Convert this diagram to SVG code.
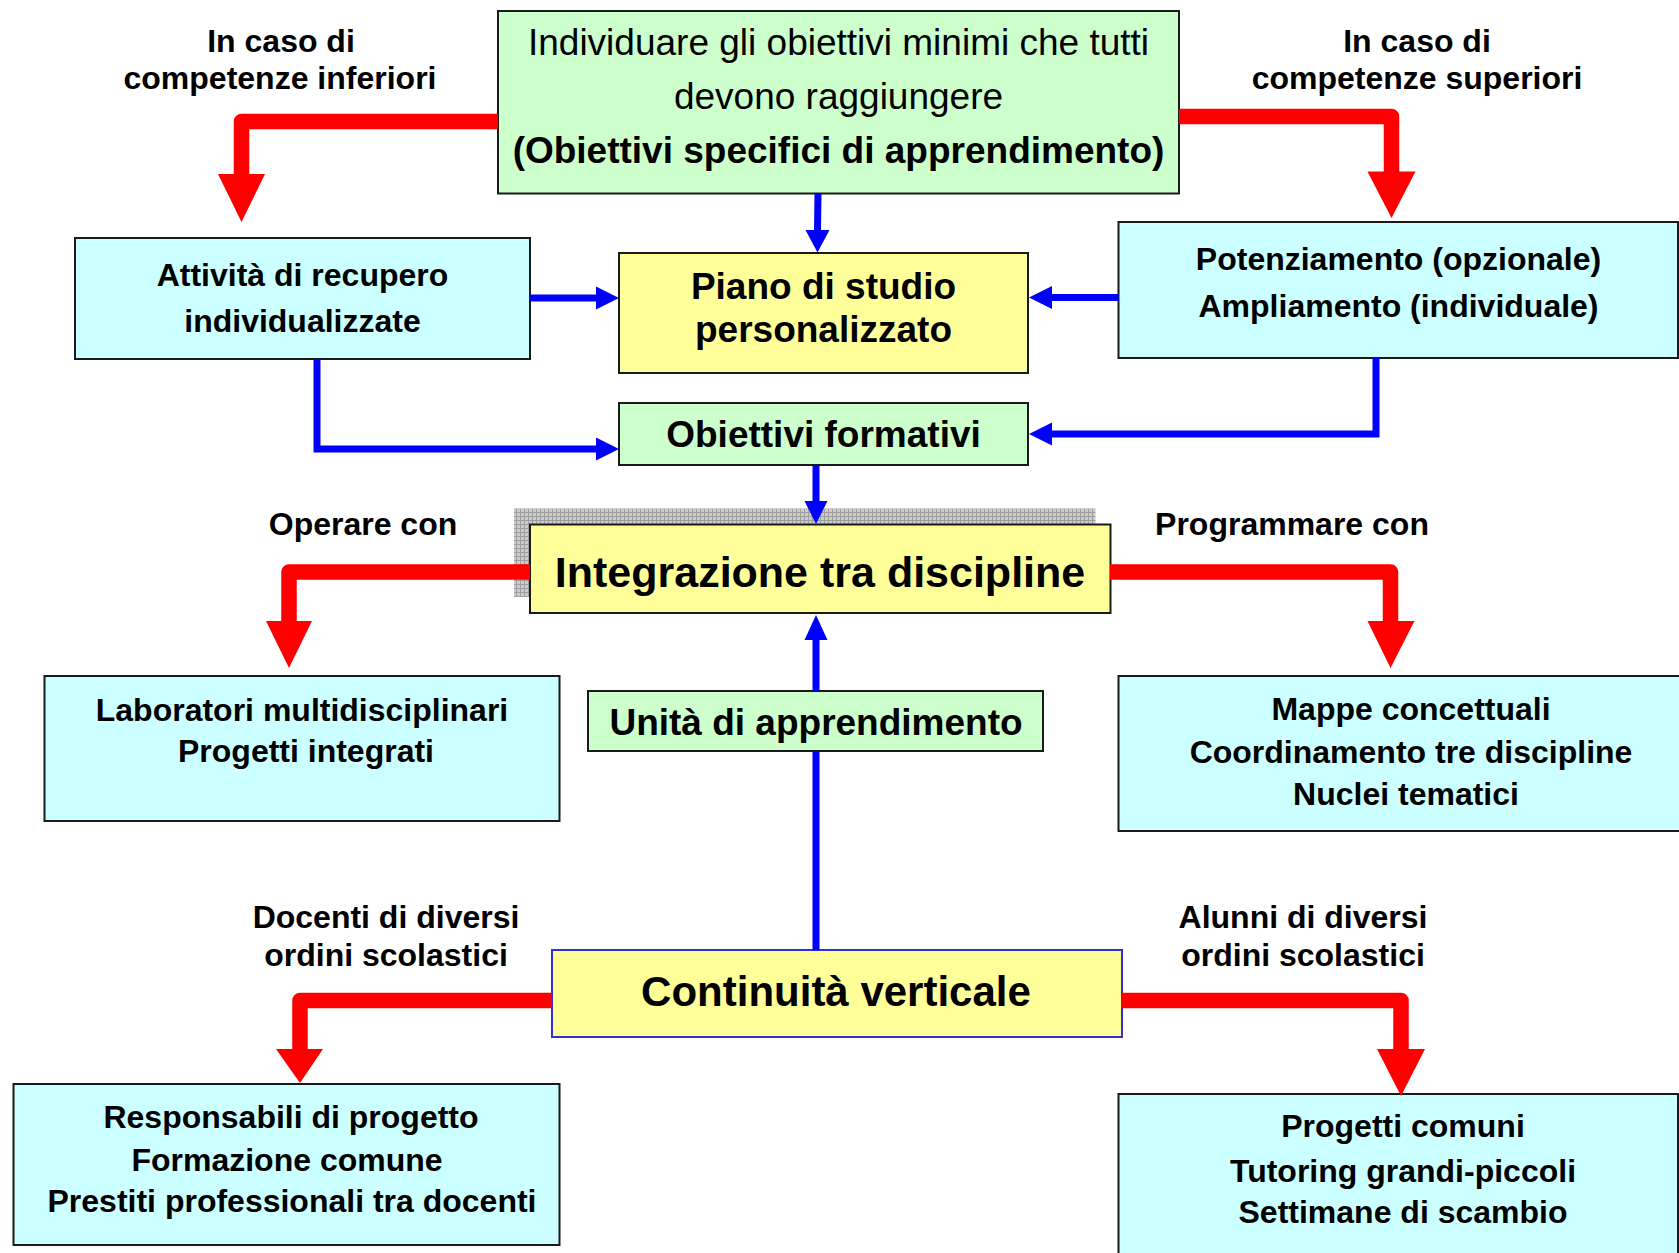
<svg xmlns="http://www.w3.org/2000/svg" width="1679" height="1253" viewBox="0 0 1679 1253">
<defs>
<style>
.box{stroke:#1a1a1a;stroke-width:2}
.g{fill:#ccffcc}.c{fill:#ccffff}.y{fill:#ffff99}
.t{font-family:"Liberation Sans",Arial,sans-serif;fill:#000;text-anchor:middle}
.b{font-weight:bold}
.lbl{font-family:"Liberation Sans",Arial,sans-serif;font-weight:bold;font-size:32px;text-anchor:middle;fill:#000}
.red{fill:none;stroke:#ff0000;stroke-width:15.5;stroke-linejoin:round}
.blue{fill:none;stroke:#0000ff;stroke-width:7}
.rh{fill:#ff0000}.bh{fill:#0000ff}
</style>
<pattern id="grid" width="4" height="4" patternUnits="userSpaceOnUse">
<rect width="4" height="4" fill="#cccccc"/>
<path d="M0,0.5 H4 M0.5,0 V4" stroke="#9e9e9e" stroke-width="1"/>
</pattern>
</defs>
<rect width="1679" height="1253" fill="#ffffff"/>

<g id="labels">
<text class="lbl" x="281" y="52">In caso di</text>
<text class="lbl" x="280" y="89">competenze inferiori</text>
<text class="lbl" x="1417" y="52">In caso di</text>
<text class="lbl" x="1417" y="89">competenze superiori</text>
<text class="lbl" x="363" y="535">Operare con</text>
<text class="lbl" x="1292" y="535">Programmare con</text>
<text class="lbl" x="386" y="928">Docenti di diversi</text>
<text class="lbl" x="386" y="966">ordini scolastici</text>
<text class="lbl" x="1303" y="928">Alunni di diversi</text>
<text class="lbl" x="1303" y="966">ordini scolastici</text>
</g>

<g id="node-obiettivi-minimi">
<rect class="box g" x="498" y="11" width="681" height="182.5"/>
<text class="t" x="838.5" y="55" font-size="37">Individuare gli obiettivi minimi che tutti</text>
<text class="t" x="838.5" y="108.5" font-size="37">devono raggiungere</text>
<text class="t b" x="838.5" y="163" font-size="37">(Obiettivi specifici di apprendimento)</text>
</g>

<g id="node-attivita">
<rect class="box c" x="75" y="238" width="455" height="121"/>
<text class="t b" x="302.5" y="286" font-size="32">Attività di recupero</text>
<text class="t b" x="302.5" y="332" font-size="32">individualizzate</text>
</g>

<g id="node-piano">
<rect class="box y" x="619" y="253" width="409" height="120"/>
<text class="t b" x="823.5" y="299" font-size="37">Piano di studio</text>
<text class="t b" x="823.5" y="342" font-size="37">personalizzato</text>
</g>

<g id="node-potenziamento">
<rect class="box c" x="1118.5" y="222" width="559.5" height="136"/>
<text class="t b" x="1398.5" y="270" font-size="32">Potenziamento (opzionale)</text>
<text class="t b" x="1398.5" y="316.5" font-size="32">Ampliamento (individuale)</text>
</g>

<g id="node-obiettivi-formativi">
<rect class="box g" x="619" y="403" width="409" height="62"/>
<text class="t b" x="823.5" y="447" font-size="37">Obiettivi formativi</text>
</g>

<g id="node-integrazione">
<rect x="514" y="508.5" width="581.5" height="88.5" fill="url(#grid)"/>
<rect class="box y" x="530" y="524.5" width="580.5" height="88.5"/>
<text class="t b" x="820" y="587" font-size="43">Integrazione tra discipline</text>
</g>

<g id="node-laboratori">
<rect class="box c" x="44.5" y="676" width="515" height="145"/>
<text class="t b" x="302" y="720.5" font-size="32">Laboratori multidisciplinari</text>
<text class="t b" x="306" y="761.5" font-size="32">Progetti integrati</text>
</g>

<g id="node-mappe">
<rect class="box c" x="1118.5" y="676" width="590" height="155"/>
<text class="t b" x="1411" y="720" font-size="32">Mappe concettuali</text>
<text class="t b" x="1411" y="762.5" font-size="32">Coordinamento tre discipline</text>
<text class="t b" x="1406" y="805" font-size="32">Nuclei tematici</text>
</g>

<g id="node-unita">
<rect class="box g" x="588" y="691" width="455" height="60"/>
<text class="t b" x="816" y="735" font-size="37">Unità di apprendimento</text>
</g>

<g id="node-continuita">
<rect x="552" y="950" width="570" height="87" fill="#ffff99" stroke="#3333cc" stroke-width="2"/>
<text class="t b" x="836" y="1006" font-size="42">Continuità verticale</text>
</g>

<g id="node-responsabili">
<rect class="box c" x="13.5" y="1084" width="546" height="161"/>
<text class="t b" x="291" y="1128" font-size="32">Responsabili di progetto</text>
<text class="t b" x="287" y="1170.5" font-size="32">Formazione comune</text>
<text class="t b" x="292" y="1212" font-size="32">Prestiti professionali tra docenti</text>
</g>

<g id="node-progetti-comuni">
<rect class="box c" x="1118.5" y="1094" width="559.5" height="180"/>
<text class="t b" x="1403" y="1137" font-size="32">Progetti comuni</text>
<text class="t b" x="1403" y="1181.5" font-size="32">Tutoring grandi-piccoli</text>
<text class="t b" x="1403" y="1223" font-size="32">Settimane di scambio</text>
</g>

<g id="connectors">
<path class="red" d="M498,121.5 H241.5 V175"/>
<polygon class="rh" points="218,174 265,174 241.5,222"/>
<path class="red" d="M1179,116.5 H1391.5 V172"/>
<polygon class="rh" points="1367.5,171.5 1415.5,171.5 1391.5,218"/>
<path class="red" d="M530,572 H289 V622"/>
<polygon class="rh" points="266,621 312,621 289,668"/>
<path class="red" d="M1110,572 H1390.5 V622"/>
<polygon class="rh" points="1367.5,621 1414.5,621 1390.5,668"/>
<path class="red" d="M552,1000.5 H300 V1050"/>
<polygon class="rh" points="276,1049 323,1049 300,1083"/>
<path class="red" d="M1122,1000.5 H1401 V1050"/>
<polygon class="rh" points="1377,1049 1425,1049 1401,1096"/>

<path class="blue" d="M818,193.5 L817.5,231"/>
<polygon class="bh" points="805.5,230 829.5,230 817.5,252.5"/>
<path class="blue" d="M530,298 H597"/>
<polygon class="bh" points="596,286.5 596,309.5 619,298"/>
<path class="blue" d="M1118.5,297.5 H1051"/>
<polygon class="bh" points="1052,286 1052,309 1029,297.5"/>
<path class="blue" d="M317,359 V449 H597"/>
<polygon class="bh" points="596,437.5 596,460.5 619,449"/>
<path class="blue" d="M1376,358 V434 H1051"/>
<polygon class="bh" points="1052,422.5 1052,445.5 1029,434"/>
<path class="blue" d="M816,465 V502"/>
<polygon class="bh" points="804.5,501 827.5,501 816,524"/>
<path class="blue" d="M816,691 V639"/>
<polygon class="bh" points="804.5,640 827.5,640 816,615"/>
<path class="blue" d="M816,950 V751"/>
</g>
</svg>
